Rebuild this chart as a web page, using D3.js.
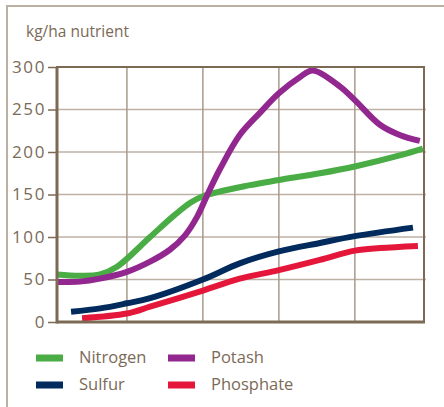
<!DOCTYPE html>
<html><head><meta charset="utf-8">
<script src="https://cdn.jsdelivr.net/npm/d3@7"></script>
<style>
body{margin:0;background:#fff;}
svg{display:block;}
text{font-family:"Open Sans",sans-serif;fill:#7b6a57;}
</style></head>
<body>
<script>
// ---- data ----
const yTicks = [0, 50, 100, 150, 200, 250, 300];
const xGrid = [20, 40, 60, 80];
const seriesNames = ["Nitrogen", "Potash", "Sulfur", "Phosphate"];
const seriesColors = ["#4aac45", "#92278f", "#002b5c", "#e4173a"];
const nitrogenX = [1.6, 7.6, 12.9, 17.4, 26.1, 32.6, 36.6, 40, 52.4, 60, 70.8, 80, 91.8, 97.9];
const nitrogenY = [56, 54.5, 56, 65, 100, 126, 140, 148, 161, 167, 175, 183, 196, 204];
const potashX = [1.6, 7.6, 12.9, 20, 26.1, 31.3, 35.3, 38.5, 41.1, 44.5, 49.7, 55, 60, 65.5, 68.9, 76.1, 80, 86.6, 91.8, 97.1];
const potashY = [47, 47.5, 51, 59, 71, 85, 102, 124, 149, 180, 220, 246, 269, 288, 296, 277, 261, 232, 220, 213];
const sulfurX = [5.3, 13, 20, 26.1, 40, 49.7, 60, 70.8, 80, 95.3];
const sulfurY = [12, 16, 22, 28, 50, 69, 83, 93, 101, 111];
const phosphateX = [8.2, 20, 26.1, 40, 49.7, 60, 70.8, 80, 86.6, 96.6];
const phosphateY = [4.5, 10, 18, 37, 51, 61, 73, 84, 87, 89.5];

const W = 444, H = 407;
const svg = d3.select("body").append("svg").attr("width", W).attr("height", H);

const x = d3.scaleLinear().domain([1.6, 98.2]).range([57, 424]);
const y = d3.scaleLinear().domain([0, 300]).range([322, 67]);

// outer frame
svg.append("path").attr("d", `M7,${H}V6H${W}`).attr("fill", "none")
  .attr("stroke", "#bcb0a3").attr("stroke-width", 2);

// title
svg.append("text").attr("x", 26).attr("y", 37).attr("font-size", 15.5).text("kg/ha nutrient");

// grid
const grid = svg.append("g");
grid.selectAll("line.h").data(yTicks.filter(d => d > 0 && d < 300)).join("line")
  .attr("x1", x(1.6)).attr("x2", x(98.2) + 2).attr("y1", d => y(d)).attr("y2", d => y(d))
  .attr("stroke", "#bdb1a4").attr("stroke-width", 1.5);
grid.selectAll("line.v").data(xGrid).join("line")
  .attr("x1", d => x(d)).attr("x2", d => x(d)).attr("y1", y(300)).attr("y2", y(0))
  .attr("stroke", "#a89a89").attr("stroke-width", 1.5);

// lines
const line = d3.line().x(d => x(d[0])).y(d => y(d[1])).curve(d3.curveCatmullRom.alpha(0.5));
const sets = [
  [nitrogenX, nitrogenY], [potashX, potashY], [sulfurX, sulfurY], [phosphateX, phosphateY]
];
[3, 2, 0, 1].forEach(i => {
  const pts = sets[i][0].map((v, k) => [v, sets[i][1][k]]);
  svg.append("path").attr("d", line(pts)).attr("fill", "none")
    .attr("stroke", seriesColors[i]).attr("stroke-width", 6);
});

// frame of plot
svg.append("rect").attr("x", x(1.6)).attr("y", y(300)).attr("width", x(98.2) - x(1.6))
  .attr("height", y(0) - y(300)).attr("fill", "none").attr("stroke", "#7c6a55").attr("stroke-width", 2);
svg.append("line").attr("x1", x(1.6)).attr("x2", x(1.6)).attr("y1", y(300)).attr("y2", y(0)+1.5)
  .attr("stroke", "#7c6a55").attr("stroke-width", 3);
svg.append("line").attr("x1", x(1.6)).attr("x2", x(98.2)+1).attr("y1", y(0)).attr("y2", y(0))
  .attr("stroke", "#7c6a55").attr("stroke-width", 3);

// y axis
const ax = svg.append("g").attr("transform", `translate(${x(1.6)},0)`)
  .call(d3.axisLeft(y).tickValues(yTicks).tickSize(9).tickPadding(2));
ax.select(".domain").remove();
ax.selectAll(".tick line").attr("stroke", "#7c6a55").attr("stroke-width", 1.5);
ax.selectAll(".tick text").attr("font-size", 17).attr("letter-spacing", 1.6)
  .attr("fill", "#7b6a57").attr("font-family", "'Open Sans',sans-serif").attr("dy", "0.3em");

// legend
const legX = [36, 168], legY = [358, 385];
const legOrder = [[0, 0, 0], [1, 1, 0], [2, 0, 1], [3, 1, 1]];
legOrder.forEach(([i, c, r]) => {
  svg.append("rect").attr("x", legX[c]).attr("y", legY[r] - 3.5).attr("width", 27).attr("height", 7)
    .attr("fill", seriesColors[i]);
  svg.append("text").attr("x", legX[c] + 43).attr("y", legY[r] + 5).attr("font-size", 16.5)
    .text(seriesNames[i]);
});
</script>
</body></html>
